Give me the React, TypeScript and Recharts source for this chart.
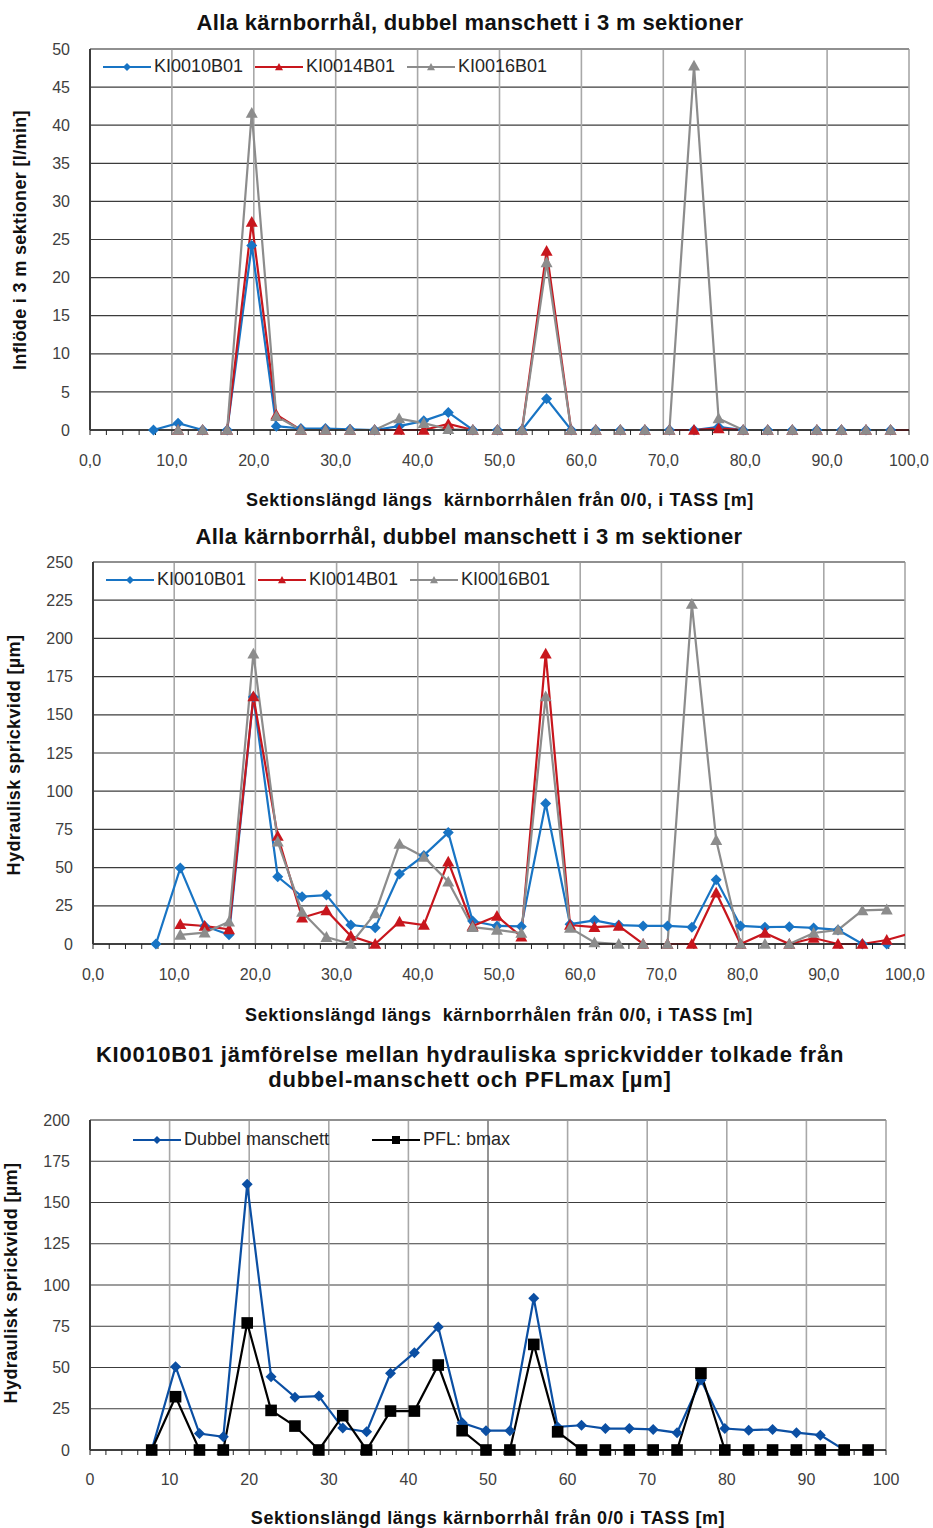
import { LineChart, Line, XAxis, YAxis, CartesianGrid, ReferenceLine, Legend } from "recharts";

// midpoints of the 3 m sections [m]; the last one (100,75) only carries the red tail past the axis end
const sections = [
  7.75, 10.75, 13.75, 16.75, 19.75, 22.75, 25.75, 28.75, 31.75, 34.75, 37.75,
  40.75, 43.75, 46.75, 49.75, 52.75, 55.75, 58.75, 61.75, 64.75, 67.75, 70.75,
  73.75, 76.75, 79.75, 82.75, 85.75, 88.75, 91.75, 94.75, 97.75, 100.75,
];

// inflow [l/min]
const flowKI0010 = [0, 0.9, 0, 0, 24.2, 0.5, 0.2, 0.2, 0.1, 0, 0.5, 1.2, 2.3, 0, 0, 0, 4.1, 0, 0, 0, 0, 0, 0, 0.4, 0, 0, 0, 0, 0, 0, 0, null];
const flowKI0014 = [null, 0, 0, 0, 27.3, 2.0, 0, 0, 0, 0, 0, 0, 0.8, 0, 0, 0, 23.5, 0, 0, 0, 0, 0, 0, 0.2, 0, 0, 0, 0, 0, 0, 0, 0];
const flowKI0016 = [null, 0, 0, 0, 41.6, 1.8, 0, 0, 0, 0, 1.5, 0.9, 0.1, 0, 0, 0, 22.0, 0, 0, 0, 0, 0, 47.8, 1.5, 0, 0, 0, 0, 0, 0, 0, null];

// hydraulic aperture [µm]
const apKI0010 = [0, 49.7, 11.8, 6, 161.6, 44, 31, 32, 12.4, 10.7, 45.8, 58, 72.9, 15, 11.8, 11.5, 92, 13, 15.5, 12.4, 11.8, 11.8, 11, 42, 11.8, 11, 11.3, 10.5, 9.2, 0, 0, null];
const apKI0014 = [null, 13, 11.8, 9.6, 162, 70.7, 17.2, 22, 5.2, 0, 14.6, 12.4, 53.9, 11.8, 18.3, 4.8, 190, 12.4, 11, 11.8, 0, 0, 0, 33.6, 0, 7.2, 0, 3.9, 0, 0, 2.6, 7.1];
const apKI0016 = [null, 6, 7.4, 14.6, 190, 67, 21, 4.5, 0, 20, 65.4, 57, 40.8, 11, 9.2, 7.2, 162, 10.5, 1, 0, 0, 0, 222.5, 68, 0, 0, 0, 7.2, 9.2, 22, 22.5, null];

// KI0010B01: double packer vs PFL bmax [µm]
const dubbelManschett = [0, 50.5, 10, 8, 161, 44.4, 32, 32.7, 13.3, 11, 46.5, 59, 74.5, 16.5, 11.7, 11.7, 92, 14, 15, 13, 13, 12.5, 10.5, 42.4, 13, 12, 12.5, 10.5, 9, 0, 0, null];
const pflBmax = [0, 32.3, 0, 0, 77, 24, 14.5, 0, 20.8, 0, 23.6, 23.6, 51.5, 11.7, 0, 0, 64, 11, 0, 0, 0, 0, 0, 46.5, 0, 0, 0, 0, 0, 0, 0, null];

const majorTicks = [0, 10, 20, 30, 40, 50, 60, 70, 80, 90, 100];
const flowTicks = [0, 5, 10, 15, 20, 25, 30, 35, 40, 45, 50];
const apTicks = [0, 25, 50, 75, 100, 125, 150, 175, 200, 225, 250];
const cmpTicks = [0, 25, 50, 75, 100, 125, 150, 175, 200];

const FONT = '"Liberation Sans", Arial, sans-serif';

type Shape = "diamond" | "triangle" | "square";
type Series = { key: string; name: string; color: string; shape: Shape; values: (number | null)[] };

function marker(shape: Shape, cx: number, cy: number, color: string, r: number) {
  if (shape === "diamond")
    return <path d={`M${cx},${cy - r}L${cx + r},${cy}L${cx},${cy + r}L${cx - r},${cy}Z`} fill={color} />;
  if (shape === "triangle")
    return <path d={`M${cx},${cy - r}L${cx + r},${cy + r * 0.8}L${cx - r},${cy + r * 0.8}Z`} fill={color} />;
  return <rect x={cx - r} y={cy - r} width={r * 2} height={r * 2} fill={color} />;
}

// per-shape size for the plot markers
const markerScale: Record<Shape, number> = { diamond: 5.5, triangle: 6, square: 5.8 };

const buildRows = (series: Series[]) =>
  sections.map((x, i) => {
    const row: Record<string, number | null> = { x };
    series.forEach((s) => (row[s.key] = s.values[i]));
    return row;
  });

function LegendBox({ series, itemWidth }: { series: Series[]; itemWidth: number }) {
  return (
    <div style={{ display: "flex", fontFamily: FONT, fontSize: 18, color: "#262626" }}>
      {series.map((s) => (
        <div key={s.key} style={{ width: itemWidth, display: "flex", alignItems: "center" }}>
          <svg width={48} height={14} style={{ marginRight: 3 }}>
            <line x1={0} y1={7} x2={48} y2={7} stroke={s.color} strokeWidth={2} />
            {marker(s.shape, 24, 7, s.color, 4)}
          </svg>
          <span>{s.name}</span>
        </div>
      ))}
    </div>
  );
}

type ChartProps = {
  top: number;
  height: number;
  plot: { left: number; right: number; top: number; bottom: number };
  yTicks: number[];
  series: Series[];
  legend: { left: number; top: number; itemWidth: number };
  xLabel: (v: number) => string;
  tickGap: number;
  darkFifty?: boolean;
};

function SectionChart({ top, height, plot, yTicks, series, legend, xLabel, tickGap, darkFifty }: ChartProps) {
  const rows = buildRows(series);
  const yMax = yTicks[yTicks.length - 1];
  const minorTicks = Array.from({ length: 51 }, (_, i) => i * 2);
  const xh = 40;
  return (
    <div style={{ position: "absolute", left: 0, top }}>
      <LineChart
        width={933}
        height={height}
        data={rows}
        margin={{ top: plot.top - top, right: 933 - plot.right, bottom: height - (plot.bottom - top) - xh, left: 0 }}
      >
        <CartesianGrid vertical={false} stroke="#3c3c3c" strokeWidth={1.2} />
        {majorTicks.slice(1).map((v) => (
          <ReferenceLine
            key={v}
            x={v}
            stroke={darkFifty && v === 50 ? "#7a7a7a" : "#a8a8a8"}
            strokeWidth={1.6}
          />
        ))}
        <ReferenceLine y={yMax} stroke="#8c8c8c" strokeWidth={1.6} />
        <XAxis
          type="number"
          dataKey="x"
          domain={[0, 100]}
          allowDataOverflow
          ticks={minorTicks}
          interval={0}
          height={xh}
          tickSize={5}
          tickMargin={tickGap}
          tickLine={{ stroke: "#222" }}
          axisLine={{ stroke: "#222", strokeWidth: 1.5 }}
          tickFormatter={(v: number) => (v % 10 === 0 ? xLabel(v) : "")}
          tick={{ fill: "#404040", fontSize: 16, fontFamily: FONT }}
        />
        <YAxis
          type="number"
          domain={[0, yMax]}
          ticks={yTicks}
          interval={0}
          width={plot.left}
          tickLine={false}
          tickSize={0}
          tickMargin={20}
          axisLine={{ stroke: "#3c3c3c", strokeWidth: 2 }}
          tick={{ fill: "#404040", fontSize: 16, fontFamily: FONT }}
        />
        <Legend
          layout="horizontal"
          verticalAlign="middle"
          align="center"
          wrapperStyle={{ left: legend.left, top: legend.top - top, width: "auto" }}
          content={() => <LegendBox series={series} itemWidth={legend.itemWidth} />}
        />
        {series.map((s) => (
          <Line
            key={s.key}
            dataKey={s.key}
            name={s.name}
            stroke={s.color}
            strokeWidth={2.2}
            isAnimationActive={false}
            activeDot={false}
            dot={(p: any) =>
              p.cx == null || p.cy == null || p.payload.x > 100 ? (
                <g key={p.key} />
              ) : (
                <g key={p.key}>{marker(s.shape, p.cx, p.cy, s.color, markerScale[s.shape])}</g>
              )
            }
          />
        ))}
      </LineChart>
    </div>
  );
}

function Caption({ x, y, size, bold = true, rotate = false, spacing = 0, children }: any) {
  return (
    <div
      style={{
        position: "absolute",
        left: x,
        top: y,
        transform: `translate(-50%, -50%)${rotate ? " rotate(-90deg)" : ""}`,
        whiteSpace: "pre",
        fontFamily: FONT,
        fontSize: size,
        fontWeight: bold ? 700 : 400,
        letterSpacing: spacing,
        color: "#111",
        textAlign: "center",
        lineHeight: "25px",
      }}
    >
      {children}
    </div>
  );
}

const blue = "#1874c4";
const red = "#c8161d";
const grey = "#8c8c8c";

const flowSeries: Series[] = [
  { key: "a", name: "KI0010B01", color: blue, shape: "diamond", values: flowKI0010 },
  { key: "b", name: "KI0014B01", color: red, shape: "triangle", values: flowKI0014 },
  { key: "c", name: "KI0016B01", color: grey, shape: "triangle", values: flowKI0016 },
];
const apSeries: Series[] = [
  { key: "a", name: "KI0010B01", color: blue, shape: "diamond", values: apKI0010 },
  { key: "b", name: "KI0014B01", color: red, shape: "triangle", values: apKI0014 },
  { key: "c", name: "KI0016B01", color: grey, shape: "triangle", values: apKI0016 },
];
const cmpSeries: Series[] = [
  { key: "dm", name: "Dubbel manschett", color: "#0b4fa3", shape: "diamond", values: dubbelManschett },
  { key: "pfl", name: "PFL: bmax", color: "#000", shape: "square", values: pflBmax },
];

const decimal = (v: number) => v.toFixed(1).replace(".", ",");

export default function App() {
  return (
    <div style={{ position: "absolute", left: 0, top: 0, width: 933, height: 1528, background: "#fff" }}>
      <SectionChart
        top={0}
        height={520}
        plot={{ left: 90, right: 909, top: 49, bottom: 430 }}
        yTicks={flowTicks}
        series={flowSeries}
        legend={{ left: 103, top: 56, itemWidth: 152 }}
        xLabel={decimal}
        tickGap={20}
      />
      <SectionChart
        top={520}
        height={525}
        plot={{ left: 93, right: 905, top: 562, bottom: 944 }}
        yTicks={apTicks}
        series={apSeries}
        legend={{ left: 106, top: 569, itemWidth: 152 }}
        xLabel={decimal}
        tickGap={20}
      />
      <SectionChart
        top={1045}
        height={483}
        plot={{ left: 90, right: 886, top: 1120, bottom: 1450 }}
        yTicks={cmpTicks}
        series={cmpSeries}
        legend={{ left: 133, top: 1129, itemWidth: 239 }}
        xLabel={(v) => String(v)}
        tickGap={19}
        darkFifty
      />

      <Caption x={470} y={22} size={22} spacing={0.35}>Alla kärnborrhål, dubbel manschett i 3 m sektioner</Caption>
      <Caption x={500} y={500} size={18} spacing={0.6}>Sektionslängd längs  kärnborrhålen från 0/0, i TASS [m]</Caption>
      <Caption x={20} y={240} size={18} spacing={0.35} rotate>Inflöde i 3 m sektioner [l/min]</Caption>

      <Caption x={469} y={536} size={22} spacing={0.35}>Alla kärnborrhål, dubbel manschett i 3 m sektioner</Caption>
      <Caption x={499} y={1015} size={18} spacing={0.6}>Sektionslängd längs  kärnborrhålen från 0/0, i TASS [m]</Caption>
      <Caption x={14} y={755} size={18} spacing={0.4} rotate>Hydraulisk sprickvidd [µm]</Caption>

      <Caption x={470} y={1067} size={22} spacing={0.75}>{"KI0010B01 jämförelse mellan hydrauliska sprickvidder tolkade från\ndubbel-manschett och PFLmax [µm]"}</Caption>
      <Caption x={488} y={1518} size={18} spacing={0.6}>Sektionslängd längs kärnborrhål från 0/0 i TASS [m]</Caption>
      <Caption x={11} y={1283} size={18} spacing={0.4} rotate>Hydraulisk sprickvidd [µm]</Caption>
    </div>
  );
}
